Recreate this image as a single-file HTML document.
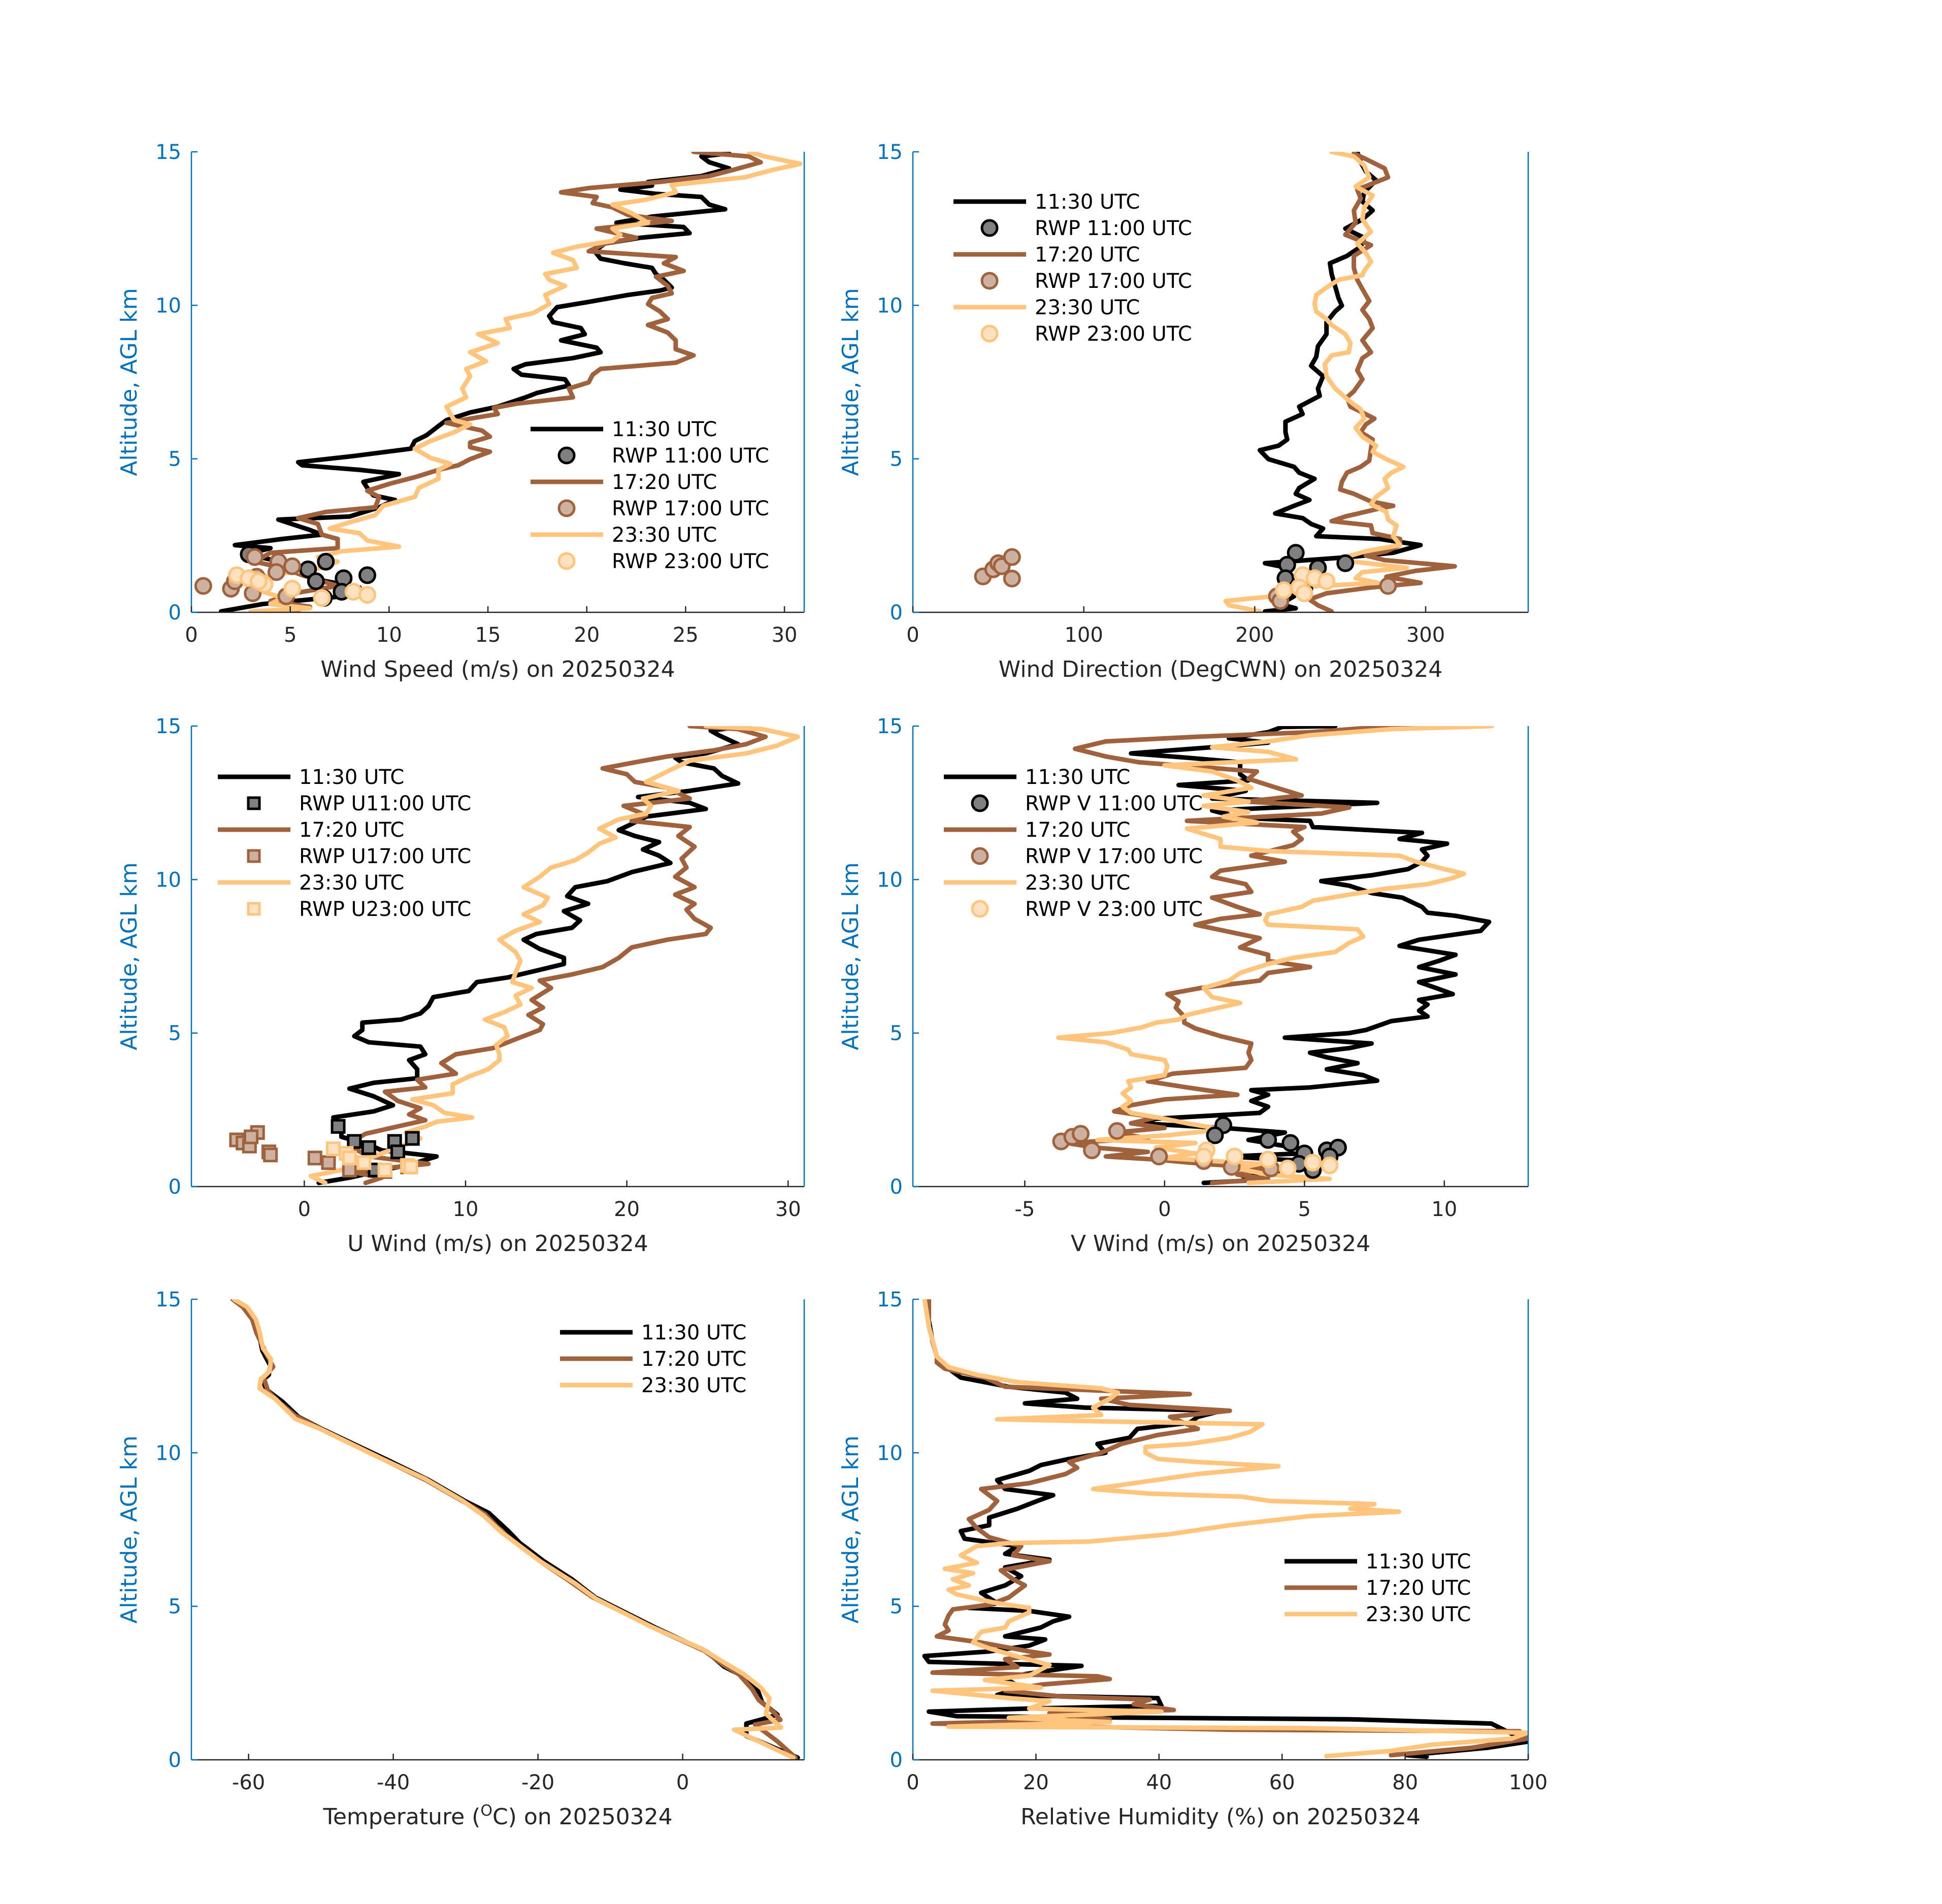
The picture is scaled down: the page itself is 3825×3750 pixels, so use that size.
<!DOCTYPE html>
<html><head><meta charset="utf-8"><style>
html,body{margin:0;padding:0;background:#fff;}
svg{display:block;font-family:"DejaVu Sans","Liberation Sans",sans-serif;}
</style></head><body>
<svg id="fig" width="3825" height="3750" viewBox="0 0 3825 3750" xmlns="http://www.w3.org/2000/svg"></svg>
<script>
// ---------- DATA (value, altitude km) ----------
const wsTicks=[0,5,10,15,20,25,30];
const ws1130=[[1.5,0.03],[3.6,0.27],[7.6,0.52],[8.5,0.81],[6.0,1.11],[5.4,1.5],[3.8,1.75],[2.8,1.89],[4.0,2.09],[2.2,2.19],[4.6,2.39],[6.6,2.53],[6.0,2.68],[4.4,3.02],[8.0,3.12],[9.5,3.42],[10.3,3.66],[9.2,3.81],[8.9,4.05],[8.7,4.25],[10.5,4.5],[8.5,4.64],[5.6,4.79],[5.4,4.89],[8.2,5.09],[11.1,5.33],[11.3,5.58],[11.9,5.77],[12.5,6.07],[12.9,6.26],[14.1,6.51],[15.5,6.7],[16.9,7.0],[17.5,7.15],[19.1,7.39],[18.9,7.59],[16.7,7.74],[16.3,7.93],[16.9,8.08],[19.3,8.28],[20.7,8.47],[20.5,8.62],[18.7,8.86],[19.9,9.06],[19.7,9.26],[18.3,9.45],[18.1,9.65],[18.5,9.94],[19.9,10.09],[22.1,10.34],[23.7,10.48],[24.3,10.58],[23.9,10.83],[23.5,11.02],[23.3,11.22],[21.9,11.37],[20.7,11.52],[20.4,11.76],[20.9,12.01],[22.7,12.2],[25.2,12.35],[24.9,12.55],[21.5,12.69],[23.3,12.89],[27.0,13.13],[26.2,13.28],[25.8,13.53],[23.5,13.63],[21.7,13.77],[23.3,13.9],[23.1,14.02],[25.8,14.21],[27.2,14.46],[26.2,14.66],[25.8,14.85],[27.2,14.95]];
const ws1720=[[5.0,0.03],[6.0,0.18],[4.0,0.37],[5.2,0.62],[7.4,0.86],[5.6,1.21],[4.6,1.45],[3.2,1.65],[4.0,1.94],[7.4,2.09],[7.4,2.39],[6.6,2.53],[6.4,2.88],[5.4,3.07],[6.8,3.27],[9.3,3.42],[9.5,3.76],[8.9,3.96],[10.1,4.2],[11.3,4.4],[12.5,4.64],[13.5,4.79],[14.1,4.99],[15.1,5.23],[14.1,5.38],[14.1,5.53],[15.1,5.72],[14.7,5.92],[12.9,6.17],[14.1,6.31],[15.5,6.46],[15.3,6.66],[16.5,6.8],[19.3,7.0],[19.1,7.29],[20.1,7.49],[20.3,7.74],[20.7,7.93],[24.5,8.13],[25.4,8.37],[24.5,8.57],[24.5,8.86],[24.1,9.11],[23.1,9.36],[24.1,9.55],[23.7,9.8],[23.1,10.04],[23.3,10.24],[24.3,10.39],[24.1,10.63],[23.5,10.93],[24.9,11.12],[23.9,11.37],[24.5,11.57],[20.1,11.76],[20.9,12.01],[22.5,12.2],[20.5,12.5],[24.3,12.75],[22.1,12.94],[21.3,13.19],[20.3,13.33],[20.5,13.53],[18.7,13.68],[20.1,13.82],[23.7,14.02],[26.2,14.21],[27.4,14.41],[28.8,14.66],[28.2,14.85],[25.4,15.0]];
const ws2330=[[3.0,0.03],[6.0,0.13],[4.0,0.27],[4.6,0.47],[3.4,0.72],[2.6,0.96],[4.0,1.21],[6.6,1.45],[7.4,1.65],[6.4,1.8],[7.6,1.99],[10.5,2.14],[8.9,2.34],[8.5,2.58],[7.0,2.73],[8.0,2.93],[9.3,3.17],[9.7,3.47],[11.3,3.76],[11.5,4.05],[12.5,4.35],[12.5,4.64],[13.1,4.84],[12.1,5.03],[11.3,5.33],[12.1,5.58],[13.3,5.87],[14.1,6.12],[13.3,6.26],[13.1,6.46],[12.9,6.7],[13.9,7.0],[13.7,7.29],[14.1,7.69],[13.9,7.93],[14.9,8.18],[14.1,8.47],[15.5,8.77],[14.5,9.06],[16.1,9.26],[15.9,9.55],[17.3,9.75],[18.1,10.04],[17.9,10.34],[18.9,10.63],[18.1,10.83],[17.9,11.02],[19.5,11.22],[19.3,11.47],[18.3,11.71],[19.5,11.91],[21.3,12.1],[21.7,12.3],[21.3,12.5],[23.1,12.69],[22.3,12.99],[21.3,13.28],[22.9,13.43],[24.5,13.68],[24.3,13.92],[28.0,14.17],[29.4,14.41],[30.8,14.61],[29.0,14.85],[28.2,15.0]];
const wsRwp1100=[[2.9,1.89],[5.9,1.4],[6.8,1.65],[7.7,1.11],[8.9,1.21],[6.3,1.01],[7.6,0.67],[6.7,0.47]];
const wsRwp1700=[[0.6,0.86],[2.0,0.77],[3.2,1.8],[4.4,1.65],[5.1,1.5],[4.3,1.31],[3.3,1.16],[3.1,0.62],[4.8,0.52],[2.2,1.01]];
const wsRwp2300=[[2.3,1.21],[2.9,1.11],[3.7,0.91],[5.1,0.77],[6.6,0.47],[8.2,0.67],[8.9,0.57],[3.4,1.01]];

const wdTicks=[0,100,200,300];
const wd1130=[[206,0.03],[224,0.13],[215,0.27],[223,0.52],[217,0.72],[232,1.01],[217,1.21],[219,1.45],[206,1.6],[255,1.8],[281,1.94],[297,2.19],[273,2.39],[236,2.48],[240,2.73],[233,2.88],[228,3.07],[212,3.22],[223,3.47],[232,3.66],[224,3.86],[226,4.05],[235,4.35],[226,4.55],[223,4.74],[208,4.99],[203,5.28],[214,5.43],[219,5.63],[218,5.87],[218,6.21],[228,6.46],[226,6.7],[238,7.05],[237,7.29],[240,7.69],[233,8.03],[236,8.32],[237,8.67],[242,9.06],[242,9.45],[247,9.8],[251,9.99],[249,10.24],[247,10.63],[245,11.02],[244,11.37],[254,11.61],[262,11.91],[264,12.2],[253,12.5],[263,12.8],[269,13.09],[263,13.38],[264,13.68],[271,14.07],[265,14.36],[262,14.66],[260,15.0]];
const wd1720=[[245,0.03],[237,0.23],[232,0.42],[242,0.62],[268,0.81],[297,0.96],[277,1.16],[294,1.35],[317,1.5],[276,1.7],[265,1.85],[277,1.99],[285,2.19],[285,2.39],[269,2.58],[268,2.83],[245,2.97],[253,3.12],[272,3.37],[281,3.47],[268,3.61],[258,3.86],[250,4.0],[251,4.25],[254,4.55],[262,4.74],[267,4.94],[268,5.33],[269,5.63],[262,5.87],[265,6.12],[270,6.31],[263,6.51],[256,6.7],[254,7.0],[258,7.2],[263,7.59],[260,7.88],[263,8.28],[268,8.47],[263,8.86],[269,9.26],[267,9.55],[263,9.85],[267,10.14],[263,10.53],[260,10.83],[258,11.22],[258,11.61],[268,11.96],[253,12.3],[259,12.69],[258,13.09],[262,13.48],[260,13.77],[278,14.17],[276,14.46],[267,14.71],[258,14.95]];
const wd2330=[[203,0.03],[185,0.23],[183,0.37],[210,0.52],[219,0.67],[237,0.86],[272,0.96],[259,1.11],[263,1.31],[289,1.45],[258,1.65],[253,1.8],[265,1.99],[285,2.19],[281,2.48],[283,2.83],[278,3.02],[277,3.27],[268,3.52],[271,3.76],[278,4.05],[276,4.35],[280,4.55],[287,4.74],[277,4.99],[269,5.23],[271,5.43],[263,5.72],[259,6.01],[264,6.31],[262,6.61],[255,6.9],[247,7.29],[242,7.69],[241,8.08],[245,8.37],[255,8.47],[256,8.77],[253,9.06],[245,9.36],[242,9.55],[236,9.8],[235,10.04],[236,10.34],[242,10.58],[249,10.83],[263,10.98],[264,11.12],[268,11.42],[265,11.71],[260,12.01],[268,12.4],[263,12.8],[264,13.18],[269,13.58],[259,13.87],[267,14.17],[264,14.56],[258,14.85],[245,15.0]];
const wdRwp1100=[[224,1.94],[237,1.45],[253,1.6],[219,1.55],[218,1.11],[229,0.77]];
const wdRwp1700=[[41,1.17],[47,1.4],[50,1.6],[52,1.5],[58,1.8],[58,1.1],[278,0.86],[213,0.52],[215,0.37]];
const wdRwp2300=[[228,1.21],[235,1.11],[242,1.01],[226,0.81],[229,0.62],[217,0.72]];

const uTicks=[0,10,20,30];
const u1130=[[0.9,0.12],[2.8,0.29],[4.5,0.49],[6.7,0.74],[8.2,0.98],[4.8,1.18],[4.0,1.37],[2.3,1.62],[2.3,1.96],[1.8,2.25],[4.3,2.45],[5.5,2.65],[4.3,2.94],[2.8,3.19],[4.3,3.38],[7.0,3.53],[7.0,3.82],[6.5,4.12],[7.5,4.31],[7.2,4.56],[4.0,4.7],[3.1,4.9],[3.6,5.1],[3.6,5.34],[6.0,5.44],[7.2,5.64],[7.7,5.88],[8.0,6.17],[10.2,6.37],[10.7,6.66],[12.6,6.81],[14.6,7.06],[16.1,7.25],[16.1,7.45],[14.6,7.74],[13.6,8.04],[14.4,8.23],[16.6,8.43],[17.1,8.67],[16.1,8.97],[17.6,9.21],[16.3,9.46],[16.8,9.75],[18.8,9.95],[20.3,10.24],[22.7,10.54],[22.0,10.78],[21.0,10.98],[22.0,11.22],[20.5,11.42],[19.5,11.61],[20.3,11.81],[21.2,12.05],[24.9,12.3],[23.9,12.5],[20.7,12.69],[23.9,12.89],[26.9,13.13],[25.9,13.38],[25.4,13.62],[23.4,13.82],[23.0,13.97],[24.9,14.11],[26.9,14.41],[25.7,14.7],[25.2,14.85],[26.9,14.97]];
const u1720=[[3.8,0.12],[4.8,0.29],[2.8,0.49],[7.7,0.74],[4.0,0.98],[3.3,1.18],[2.8,1.42],[3.8,1.72],[5.8,1.96],[7.5,2.16],[6.5,2.35],[7.2,2.55],[5.8,2.79],[5.0,3.09],[7.5,3.23],[7.0,3.48],[9.4,3.68],[8.5,4.02],[9.4,4.31],[11.7,4.51],[13.1,4.8],[14.6,5.1],[14.8,5.29],[13.9,5.59],[14.8,5.83],[14.1,6.08],[15.3,6.47],[14.6,6.71],[16.6,6.91],[18.5,7.15],[19.5,7.45],[20.3,7.79],[22.5,8.04],[24.9,8.23],[25.2,8.43],[24.2,8.72],[23.7,9.02],[24.2,9.21],[23.0,9.51],[24.2,9.75],[23.0,10.09],[23.7,10.39],[23.4,10.68],[24.2,11.07],[23.2,11.42],[23.9,11.71],[20.3,11.91],[21.2,12.1],[19.8,12.4],[23.9,12.64],[22.5,12.99],[20.5,13.18],[20.0,13.43],[18.5,13.62],[20.5,13.82],[22.5,14.01],[25.4,14.21],[27.4,14.41],[28.6,14.65],[26.9,14.9],[23.9,15.0]];
const u2330=[[1.3,0.12],[0.4,0.34],[2.3,0.54],[3.3,0.78],[4.3,0.98],[5.3,1.18],[6.3,1.37],[7.2,1.57],[6.3,1.76],[7.5,1.96],[8.2,2.11],[10.4,2.25],[8.7,2.4],[8.0,2.65],[6.7,2.84],[9.2,3.04],[9.2,3.33],[10.2,3.58],[11.4,3.82],[12.1,4.12],[12.1,4.31],[11.9,4.61],[12.6,4.9],[12.4,5.19],[11.2,5.44],[12.4,5.68],[13.4,5.93],[13.1,6.22],[14.1,6.47],[12.9,6.66],[13.1,6.96],[13.4,7.35],[13.1,7.64],[12.1,8.04],[13.1,8.33],[14.6,8.62],[13.6,8.87],[14.8,9.16],[15.1,9.41],[13.6,9.75],[14.6,10.09],[15.3,10.39],[16.8,10.63],[17.6,10.88],[18.3,11.17],[19.3,11.37],[18.3,11.66],[19.5,11.96],[21.2,12.15],[21.5,12.4],[21.0,12.64],[23.2,12.89],[21.2,13.18],[22.5,13.52],[23.9,13.87],[27.4,14.11],[29.3,14.36],[30.6,14.65],[28.4,14.9],[24.9,15.0]];
const uRwp1100=[[2.1,1.96],[3.1,1.47],[4.0,1.27],[5.6,1.47],[6.7,1.57],[4.4,0.54],[5.8,1.13]];
const uRwp1700=[[-4.2,1.52],[-3.8,1.42],[-3.4,1.32],[-2.9,1.76],[-3.3,1.62],[-2.2,1.13],[-2.1,1.03],[0.66,0.93],[1.5,0.78],[2.8,0.54],[5.0,0.49],[6.4,0.64]];
const uRwp2300=[[1.8,1.23],[2.6,1.08],[2.8,0.93],[3.7,0.78],[5.0,0.54],[6.4,0.69],[6.6,0.64]];

const vTicks=[-5,0,5,10];
const v1130=[[1.4,0.12],[3.1,0.2],[2.7,0.39],[5.2,0.59],[6.0,0.78],[2.3,0.98],[4.9,1.08],[5.2,1.18],[4.3,1.32],[3.0,1.52],[4.3,1.76],[2.1,1.91],[-0.9,2.06],[-0.3,2.21],[3.4,2.4],[3.7,2.6],[3.1,2.79],[3.7,2.99],[3.1,3.14],[5.2,3.23],[7.6,3.45],[7.1,3.63],[5.8,3.82],[6.9,4.02],[5.8,4.21],[5.2,4.36],[6.6,4.51],[7.4,4.66],[4.3,4.85],[6.6,5.0],[7.2,5.1],[8.1,5.39],[9.4,5.54],[9.1,5.73],[9.4,5.93],[9.1,6.08],[10.3,6.27],[9.7,6.47],[9.1,6.66],[10.4,6.91],[9.1,7.15],[9.8,7.35],[10.4,7.55],[8.4,7.84],[9.1,8.04],[11.3,8.33],[11.6,8.62],[10.4,8.82],[9.4,8.92],[9.2,9.11],[8.5,9.41],[7.4,9.56],[6.6,9.8],[5.6,9.95],[7.4,10.14],[8.7,10.34],[9.2,10.58],[9.4,10.78],[9.2,10.98],[10.1,11.17],[8.4,11.32],[9.2,11.52],[5.3,11.71],[5.2,11.91],[2.7,12.01],[1.7,12.25],[7.6,12.5],[1.7,12.64],[2.9,12.89],[0.5,13.08],[3.0,13.23],[2.7,13.43],[2.7,13.82],[0.8,13.97],[-1.2,14.11],[1.7,14.31],[3.7,14.46],[2.3,14.6],[3.7,14.8],[4.2,14.97],[6.1,15.0]];
const v1720=[[1.7,0.12],[3.7,0.25],[2.6,0.39],[3.7,0.59],[1.4,0.74],[-0.3,0.88],[-2.1,0.98],[-0.6,1.13],[-2.5,1.27],[-3.5,1.42],[-0.6,1.57],[-1.8,1.76],[0.0,1.91],[-1.2,2.06],[-0.3,2.25],[-1.8,2.45],[-1.2,2.65],[0.0,2.84],[2.6,2.99],[0.8,3.23],[-0.6,3.43],[0.3,3.68],[2.9,3.87],[3.1,4.12],[3.0,4.36],[3.1,4.66],[2.0,4.9],[1.1,5.15],[0.7,5.34],[0.7,5.54],[0.4,5.83],[0.5,6.03],[0.1,6.27],[1.3,6.47],[3.4,6.71],[3.7,6.96],[5.2,7.15],[3.7,7.35],[3.7,7.55],[2.7,7.79],[3.4,8.09],[2.4,8.28],[1.1,8.53],[2.0,8.72],[3.4,8.87],[2.6,9.11],[1.7,9.41],[3.1,9.6],[2.9,9.85],[1.7,10.09],[2.0,10.29],[4.3,10.58],[3.1,10.78],[4.6,11.12],[4.9,11.32],[4.6,11.56],[5.0,11.71],[0.8,11.91],[5.6,12.15],[6.6,12.35],[2.9,12.54],[4.9,12.74],[4.0,12.99],[3.0,13.28],[3.3,13.52],[-0.9,13.82],[-2.1,14.01],[-3.2,14.26],[-2.1,14.5],[1.1,14.65],[5.2,14.8],[7.4,14.95],[9.5,15.0]];
const v2330=[[3.0,0.12],[5.9,0.25],[3.7,0.39],[2.6,0.59],[3.4,0.74],[0.0,0.93],[1.1,1.08],[-0.3,1.27],[1.1,1.42],[-2.4,1.52],[0.1,1.67],[2.1,1.86],[0.8,2.06],[0.0,2.21],[-1.2,2.4],[-1.5,2.6],[-1.2,2.79],[-1.5,3.04],[-1.2,3.23],[-1.3,3.43],[0.0,3.63],[0.1,3.92],[0.0,4.12],[-1.2,4.31],[-1.3,4.46],[-2.1,4.7],[-3.8,4.85],[-1.9,5.0],[-0.8,5.19],[-0.3,5.34],[0.5,5.44],[0.8,5.59],[1.7,5.78],[2.7,5.98],[1.7,6.17],[1.4,6.47],[2.3,6.71],[2.7,6.96],[3.7,7.25],[4.6,7.45],[6.1,7.64],[6.6,7.94],[7.1,8.14],[6.9,8.38],[3.7,8.53],[3.6,8.67],[3.7,8.87],[4.9,9.11],[5.3,9.31],[6.6,9.51],[7.9,9.7],[9.4,9.85],[10.3,10.05],[10.7,10.19],[10.0,10.34],[9.0,10.58],[8.4,10.78],[3.7,10.93],[2.0,11.07],[2.0,11.32],[0.8,11.66],[3.3,11.86],[2.1,12.05],[3.0,12.2],[1.4,12.4],[3.0,12.54],[1.4,12.74],[3.1,12.99],[2.6,13.23],[1.7,13.52],[0.0,13.72],[4.7,13.92],[3.7,14.16],[1.7,14.31],[3.7,14.5],[5.2,14.7],[8.1,14.9],[11.7,15.0]];
const vRwp1100=[[2.1,2.0],[1.8,1.67],[3.7,1.52],[4.5,1.42],[5.0,1.08],[5.8,1.18],[6.2,1.27],[4.8,0.74],[5.9,0.98],[5.3,0.54]];
const vRwp1700=[[-3.7,1.47],[-3.3,1.62],[-3.0,1.72],[-2.6,1.18],[-1.7,1.81],[-0.2,0.98],[1.4,0.83],[2.4,0.64],[3.8,0.59]];
const vRwp2300=[[1.5,1.18],[1.4,0.98],[2.5,0.98],[3.7,0.88],[4.4,0.59],[5.3,0.78],[5.9,0.69]];

const tTicks=[-60,-40,-20,0];
const t1130=[[15.9,0.07],[8.8,0.78],[8.8,1.18],[11.0,1.32],[13.1,1.47],[11.0,1.86],[10.4,2.25],[8.2,2.74],[5.7,3.04],[3.3,3.53],[-3.8,4.31],[-12.1,5.29],[-15.3,5.88],[-19.2,6.47],[-22.5,7.06],[-24.1,7.45],[-26.8,8.04],[-30.1,8.43],[-35.1,9.11],[-41.1,9.8],[-49.9,10.78],[-53.1,11.17],[-55.3,11.66],[-57.5,12.05],[-58.1,12.35],[-57.2,12.54],[-57.0,12.84],[-58.1,13.33],[-58.6,13.92],[-59.2,14.31],[-60.3,14.7],[-61.9,15.0]];
const t1720=[[15.6,0.07],[13.1,0.6],[10.0,1.15],[13.5,1.3],[12.6,1.55],[10.5,1.95],[9.6,2.3],[7.8,2.78],[5.6,3.1],[3.0,3.55],[-4.0,4.3],[-12.5,5.3],[-15.8,5.85],[-19.6,6.45],[-22.7,7.0],[-25.1,7.45],[-27.3,8.0],[-30.6,8.45],[-35.4,9.1],[-41.5,9.8],[-50.2,10.8],[-53.5,11.2],[-55.8,11.65],[-57.3,12.0],[-57.9,12.45],[-56.6,12.8],[-57.8,13.35],[-58.9,13.9],[-59.5,14.35],[-60.8,14.75],[-62.2,15.0]];
const t2330=[[15.3,0.07],[7.1,0.98],[13.6,1.05],[11.5,1.5],[12.0,2.0],[10.8,2.35],[8.4,2.8],[5.5,3.2],[2.8,3.6],[-4.5,4.35],[-12.0,5.25],[-14.9,5.75],[-19.6,6.45],[-23.0,7.05],[-25.0,7.4],[-27.5,7.95],[-30.5,8.45],[-35.6,9.15],[-42.0,9.85],[-50.3,10.8],[-53.5,11.1],[-56.3,11.75],[-58.5,12.1],[-58.3,12.4],[-57.1,12.65],[-56.9,13.05],[-58.0,13.4],[-58.5,13.95],[-59.0,14.35],[-60.2,14.75],[-62.0,15.0]];

const rhTicks=[0,20,40,60,80,100];
const rh1130=[[83.5,0.1],[80.3,0.15],[93.3,0.39],[99.9,0.59],[94.0,1.18],[71.1,1.32],[38.5,1.37],[7.1,1.42],[2.6,1.57],[18.9,1.67],[40.4,1.76],[39.8,2.01],[13.7,2.11],[17.6,2.35],[15.0,2.65],[18.2,2.79],[27.4,3.06],[2.6,3.19],[1.9,3.38],[12.4,3.53],[18.9,3.72],[21.5,3.92],[15.0,4.02],[20.8,4.31],[22.8,4.51],[25.4,4.66],[18.9,4.85],[9.1,4.95],[13.7,5.1],[11.1,5.44],[15.0,5.68],[17.6,5.98],[15.0,6.27],[22.2,6.52],[15.0,6.71],[17.0,6.96],[8.4,7.2],[7.8,7.45],[12.4,7.64],[12.4,7.89],[17.0,8.18],[20.2,8.43],[22.8,8.62],[15.0,8.82],[13.7,9.11],[18.9,9.41],[20.8,9.6],[25.4,9.8],[31.3,10.0],[30.0,10.29],[35.2,10.49],[36.5,10.78],[45.0,10.98],[46.3,11.17],[50.2,11.37],[28.0,11.47],[18.2,11.61],[26.7,11.76],[24.8,11.96],[15.6,12.15],[7.8,12.45],[5.8,12.74],[3.9,13.13],[3.2,13.62],[2.6,14.31],[2.6,15.0]];
const rh1720=[[77.7,0.15],[90.7,0.39],[99.9,0.69],[98.6,0.93],[51.5,0.98],[3.2,1.18],[32.0,1.32],[22.2,1.52],[42.4,1.62],[35.9,1.81],[38.5,1.96],[24.1,2.06],[15.0,2.25],[20.8,2.45],[32.0,2.63],[30.0,2.72],[3.2,2.84],[17.0,3.02],[15.0,3.28],[22.2,3.43],[18.9,3.53],[11.1,3.82],[3.9,4.02],[5.8,4.21],[5.2,4.41],[5.8,4.7],[6.5,4.9],[12.4,5.05],[15.6,5.29],[18.2,5.68],[16.3,5.88],[14.3,6.17],[22.2,6.47],[16.3,6.66],[17.6,6.96],[12.4,7.25],[10.4,7.55],[9.1,7.84],[12.4,8.14],[13.7,8.43],[12.4,8.62],[11.1,8.82],[18.9,9.01],[24.8,9.31],[26.7,9.51],[25.4,9.7],[30.6,10.0],[33.9,10.29],[39.8,10.58],[46.3,10.78],[41.8,11.17],[51.5,11.37],[35.2,11.56],[30.6,11.76],[45.0,11.91],[15.0,12.15],[11.7,12.45],[5.2,12.74],[3.9,12.94],[3.9,13.13],[2.6,14.11],[2.6,15.0]];
const rh2330=[[67.2,0.12],[77.7,0.29],[84.2,0.49],[97.3,0.69],[99.9,0.88],[64.6,1.03],[5.8,1.08],[32.0,1.23],[15.6,1.37],[40.4,1.57],[18.9,1.67],[22.2,1.91],[15.6,2.01],[3.2,2.25],[20.8,2.35],[11.7,2.6],[18.9,2.74],[22.2,3.09],[17.6,3.33],[12.4,3.63],[9.8,3.82],[11.1,4.17],[15.0,4.31],[15.6,4.51],[18.9,4.8],[18.9,4.95],[13.7,5.1],[7.1,5.39],[5.8,5.54],[9.1,5.68],[6.5,5.88],[9.8,6.08],[5.2,6.22],[10.4,6.42],[7.8,6.66],[10.4,6.96],[15.6,7.06],[28.7,7.11],[41.8,7.35],[51.5,7.64],[64.6,7.94],[79.0,8.08],[71.1,8.18],[75.0,8.33],[58.1,8.43],[53.5,8.57],[38.5,8.67],[29.3,8.82],[35.9,9.01],[46.3,9.31],[59.4,9.56],[46.3,9.7],[39.8,9.8],[37.8,10.0],[37.8,10.19],[45.0,10.29],[51.5,10.49],[54.8,10.68],[56.8,10.93],[32.0,11.02],[13.7,11.09],[30.6,11.23],[29.3,11.47],[32.0,11.76],[33.3,11.96],[30.6,12.1],[17.0,12.3],[10.4,12.54],[5.8,12.79],[3.9,13.13],[2.6,14.11],[1.9,15.0]];

const altTicks=[0,5,10,15];

// ---------- STYLE ----------
const BLUE='#0072BD', AX='#262626';
const C1='#000000', C2='#A0623C', C3='#FFC57D';
const F1='#808080', F2='#CDB2A2', F3='#FFE2C2';
const LW=9;
const svg=document.getElementById('fig');
const NS='http://www.w3.org/2000/svg';
function mk(tag,attrs,parent){const e=document.createElementNS(NS,tag);for(const k in attrs)e.setAttribute(k,attrs[k]);(parent||svg).appendChild(e);return e;}

function panel(id,L,T,W,H,xmin,xmax,xticks,xlabel){
  const g=mk('g',{});
  
  
  const sx=v=>L+(v-xmin)/(xmax-xmin)*W;
  const sy=a=>T+H-(a/15)*H;
  const clipId='clip-'+id;
  const cp=mk('clipPath',{id:clipId},g); mk('rect',{x:L,y:T,width:W,height:H},cp);
  const plot=mk('g',{'clip-path':'url(#'+clipId+')'},g);
  
  
  const xa=mk('line',{x1:L,y1:T+H,x2:L+W,y2:T+H,stroke:AX,'stroke-width':2.5},g);
  
  
  const ya=mk('line',{x1:L,y1:T,x2:L,y2:T+H,stroke:BLUE,'stroke-width':2.5},g);
  
  
  const ra=mk('line',{x1:L+W,y1:T,x2:L+W,y2:T+H,stroke:BLUE,'stroke-width':2.5},g);
  
  
  xticks.forEach(v=>{
    const x=sx(v);
    mk('line',{x1:x,y1:T+H,x2:x,y2:T+H-12,stroke:AX,'stroke-width':2.5},g);
    const t=mk('text',{x:x,y:T+H+58,'text-anchor':'middle','font-size':40,fill:AX},g);
    t.textContent=String(v);
    
    
  });
  altTicks.forEach(a=>{
    const y=sy(a);
    mk('line',{x1:L,y1:y,x2:L+12,y2:y,stroke:BLUE,'stroke-width':2.5},g);
    const t=mk('text',{x:L-20,y:y+14,'text-anchor':'end','font-size':40,fill:BLUE},g);
    t.textContent=String(a);
    
    
  });
  const yl=mk('text',{x:0,y:0,'text-anchor':'middle','font-size':44,fill:BLUE,transform:'translate('+(L-108)+','+(T+H/2)+') rotate(-90)'},g);
  yl.textContent='Altitude, AGL km';
  
  
  const xl=mk('text',{x:L+W/2,y:T+H+127,'text-anchor':'middle','font-size':44,fill:AX},g);
  if(typeof xlabel==='string'){xl.textContent=xlabel;}else{
    mk('tspan',{},xl).textContent=xlabel[0];
    mk('tspan',{'font-size':30,dy:-17},xl).textContent=xlabel[1];
    mk('tspan',{dy:17},xl).textContent=xlabel[2];
  }
  
  
  return {sx,sy,plot,g};
}
function line(p,data,color,name){
  const d=data.map((q,i)=>(i?'L':'M')+p.sx(q[0]).toFixed(1)+' '+p.sy(q[1]).toFixed(1)).join(' ');
  const e=mk('path',{d:d,fill:'none',stroke:color,'stroke-width':LW,'stroke-linejoin':'round','stroke-linecap':'round'},p.plot);
  
  
}
function pts(p,data,stroke,fill,shape,name){
  data.forEach(q=>{
    const x=p.sx(q[0]),y=p.sy(q[1]);
    let e;
    if(shape==='sq') e=mk('rect',{x:x-12,y:y-12,width:24,height:24,fill:fill,stroke:stroke,'stroke-width':5},p.plot);
    else e=mk('circle',{cx:x,cy:y,r:15,fill:fill,stroke:stroke,'stroke-width':5},p.plot);
    
    
  });
}
function legend(id,x0,y0,entries){
  const g=mk('g',{});
  
  
  entries.forEach((en,i)=>{
    const y=y0+52*i;
    if(en.type==='line') mk('line',{x1:x0,y1:y,x2:x0+143,y2:y,stroke:en.c,'stroke-width':LW},g);
    else if(en.type==='sq') mk('rect',{x:x0+60,y:y-11,width:22,height:22,fill:en.f,stroke:en.c,'stroke-width':5},g);
    else mk('circle',{cx:x0+71,cy:y,r:15,fill:en.f,stroke:en.c,'stroke-width':5},g);
    const t=mk('text',{x:x0+160,y:y+14,'font-size':40,fill:'#000'},g);
    t.textContent=en.t;
    
    
  });
}
const L1=377,L2=1798,W1=1207,W2=1212,H=907,R1=299,R2=1430,R3=2559;

let p=panel('wind-speed',L1,R1,W1,H,0,31,wsTicks,'Wind Speed (m/s) on 20250324');
line(p,ws1130,C1,'speed-1130-line');line(p,ws1720,C2,'speed-1720-line');line(p,ws2330,C3,'speed-2330-line');
pts(p,wsRwp1100,C1,F1,'c','rwp-1100-point');pts(p,wsRwp1700,C2,F2,'c','rwp-1700-point');pts(p,wsRwp2300,C3,F3,'c','rwp-2300-point');
legend('wind-speed',1045,845,[{type:'line',c:C1,t:'11:30 UTC'},{type:'c',c:C1,f:F1,t:'RWP 11:00 UTC'},{type:'line',c:C2,t:'17:20 UTC'},{type:'c',c:C2,f:F2,t:'RWP 17:00 UTC'},{type:'line',c:C3,t:'23:30 UTC'},{type:'c',c:C3,f:F3,t:'RWP 23:00 UTC'}]);

p=panel('wind-direction',L2,R1,W2,H,0,360,wdTicks,'Wind Direction (DegCWN) on 20250324');
line(p,wd1130,C1,'direction-1130-line');line(p,wd1720,C2,'direction-1720-line');line(p,wd2330,C3,'direction-2330-line');
pts(p,wdRwp1100,C1,F1,'c','rwp-1100-point');pts(p,wdRwp1700,C2,F2,'c','rwp-1700-point');pts(p,wdRwp2300,C3,F3,'c','rwp-2300-point');
legend('wind-direction',1878,397,[{type:'line',c:C1,t:'11:30 UTC'},{type:'c',c:C1,f:F1,t:'RWP 11:00 UTC'},{type:'line',c:C2,t:'17:20 UTC'},{type:'c',c:C2,f:F2,t:'RWP 17:00 UTC'},{type:'line',c:C3,t:'23:30 UTC'},{type:'c',c:C3,f:F3,t:'RWP 23:00 UTC'}]);

p=panel('u-wind',L1,R2,W1,H,-7,31,uTicks,'U Wind (m/s) on 20250324');
line(p,u1130,C1,'u-1130-line');line(p,u1720,C2,'u-1720-line');line(p,u2330,C3,'u-2330-line');
pts(p,uRwp1100,C1,F1,'sq','rwp-u-1100-point');pts(p,uRwp1700,C2,F2,'sq','rwp-u-1700-point');pts(p,uRwp2300,C3,F3,'sq','rwp-u-2300-point');
legend('u-wind',429,1530,[{type:'line',c:C1,t:'11:30 UTC'},{type:'sq',c:C1,f:F1,t:'RWP U11:00 UTC'},{type:'line',c:C2,t:'17:20 UTC'},{type:'sq',c:C2,f:F2,t:'RWP U17:00 UTC'},{type:'line',c:C3,t:'23:30 UTC'},{type:'sq',c:C3,f:F3,t:'RWP U23:00 UTC'}]);

p=panel('v-wind',L2,R2,W2,H,-9,13,vTicks,'V Wind (m/s) on 20250324');
line(p,v1130,C1,'v-1130-line');line(p,v1720,C2,'v-1720-line');line(p,v2330,C3,'v-2330-line');
pts(p,vRwp1100,C1,F1,'c','rwp-v-1100-point');pts(p,vRwp1700,C2,F2,'c','rwp-v-1700-point');pts(p,vRwp2300,C3,F3,'c','rwp-v-2300-point');
legend('v-wind',1859,1530,[{type:'line',c:C1,t:'11:30 UTC'},{type:'c',c:C1,f:F1,t:'RWP V 11:00 UTC'},{type:'line',c:C2,t:'17:20 UTC'},{type:'c',c:C2,f:F2,t:'RWP V 17:00 UTC'},{type:'line',c:C3,t:'23:30 UTC'},{type:'c',c:C3,f:F3,t:'RWP V 23:00 UTC'}]);

p=panel('temperature',L1,R3,W1,H,-67.9,16.8,tTicks,['Temperature (','O','C) on 20250324']);
line(p,t1130,C1,'temp-1130-line');line(p,t1720,C2,'temp-1720-line');line(p,t2330,C3,'temp-2330-line');
legend('temperature',1103,2624,[{type:'line',c:C1,t:'11:30 UTC'},{type:'line',c:C2,t:'17:20 UTC'},{type:'line',c:C3,t:'23:30 UTC'}]);

p=panel('humidity',L2,R3,W2,H,0,100,rhTicks,'Relative Humidity (%) on 20250324');
line(p,rh1130,C1,'rh-1130-line');line(p,rh1720,C2,'rh-1720-line');line(p,rh2330,C3,'rh-2330-line');
legend('humidity',2530,3075,[{type:'line',c:C1,t:'11:30 UTC'},{type:'line',c:C2,t:'17:20 UTC'},{type:'line',c:C3,t:'23:30 UTC'}]);
</script>
</body></html>
